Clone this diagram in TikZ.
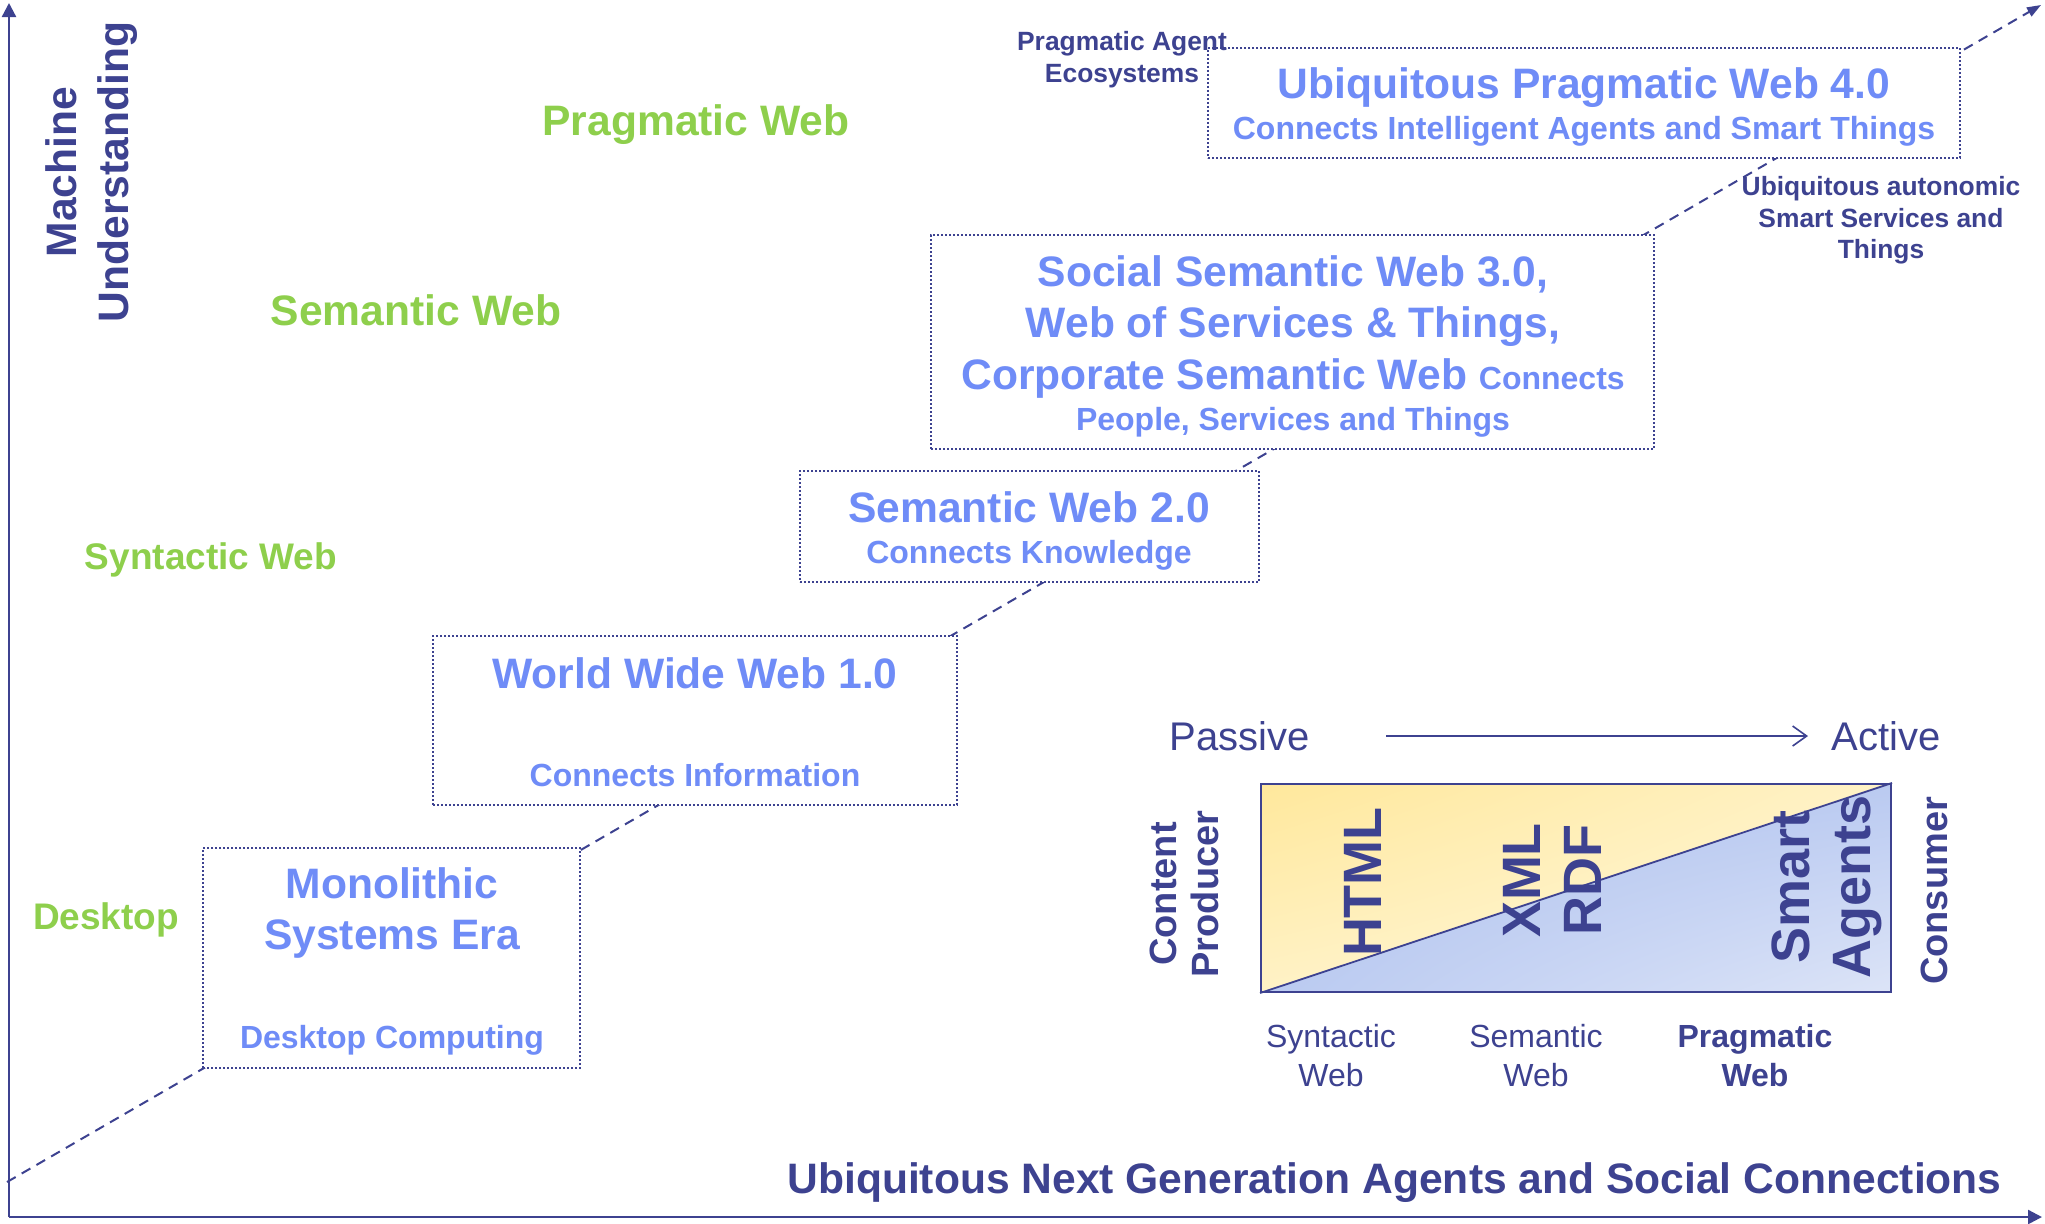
\documentclass[tikz,border=0pt]{standalone}
\usepackage{fontspec}
\setmainfont{Liberation Sans}
\usetikzlibrary{arrows.meta,shadings}
\definecolor{navy}{RGB}{61,66,144}
\definecolor{ltblue}{RGB}{111,140,247}
\definecolor{lgreen}{RGB}{142,207,76}
\definecolor{yelA}{RGB}{255,232,156}
\definecolor{yelB}{RGB}{255,242,198}
\definecolor{yelC}{RGB}{255,248,222}
\definecolor{bluA}{RGB}{176,194,238}
\definecolor{bluB}{RGB}{186,202,241}
\definecolor{bluC}{RGB}{220,228,247}
\newcommand\FBig{\bfseries\fontsize{21.3}{25.5}\selectfont}
\newcommand\FMed{\bfseries\fontsize{16}{19}\selectfont}
\newcommand\FSml{\bfseries\fontsize{13.2}{16}\selectfont}
\newcommand\FGrn{\bfseries\fontsize{18.5}{22}\selectfont}
\newcommand\FHuge{\bfseries\fontsize{27}{30.5}\selectfont}
\newcommand\FCon{\bfseries\fontsize{19}{21}\selectfont}
\newcommand\FLab{\fontsize{16}{19}\selectfont}
\begin{document}
\begin{tikzpicture}[x=0.5pt,y=-0.5pt,
  axisline/.style={draw=navy, line width=1.2pt, -{Triangle[length=7pt,width=7pt]}},
  trendline/.style={draw=navy, line width=1pt, dash pattern=on 5pt off 3.5pt, -{Triangle[length=7pt,width=5pt]}},
  era/.style={draw=navy, line width=0.9pt, dash pattern=on 0.9pt off 1.1pt, fill=white, inner sep=0pt},
  bigt/.style={text=ltblue, font=\FBig, anchor=base, inner sep=0pt},
  medt/.style={text=ltblue, font=\FMed, anchor=base, inner sep=0pt},
  sidet/.style={text=navy, font=\FSml, anchor=base, inner sep=0pt},
  grnbig/.style={text=lgreen, font=\FBig, anchor=base, inner sep=0pt},
  grnsm/.style={text=lgreen, font=\FGrn, anchor=base, inner sep=0pt},
  rot/.style={rotate=90, text=navy, align=center, inner sep=0pt},
  labt/.style={text=navy, font=\FLab, anchor=base, inner sep=0pt},
]
\useasboundingbox (0,0) rectangle (2045,1223);

% axes
\coordinate (origin) at (9,1217);
\coordinate (ytop) at (9,3);
\coordinate (xend) at (2042,1217);
\draw[axisline] (origin) -- (ytop);
\draw[axisline] (origin) -- (xend);

% dashed trend line
\coordinate (trendA) at (7,1182);
\coordinate (trendB) at (2041,5);
\draw[trendline] (trendA) -- (trendB);

% era boxes
\node[era, minimum width=376pt, minimum height=55pt] (b4) at (1584,103) {};
\node[era, minimum width=361.5pt, minimum height=107pt] (b3) at (1292.5,342) {};
\node[era, minimum width=229.5pt, minimum height=55.5pt] (b2) at (1029.5,526.5) {};
\node[era, minimum width=262pt, minimum height=84.5pt] (b1) at (695,720.5) {};
\node[era, minimum width=188.5pt, minimum height=110pt] (b0) at (391.5,958) {};

% box texts
\node[bigt] (t4a) at (1584,98) {Ubiquitous Pragmatic Web 4.0};
\node[medt] (t4b) at (1584,139) {Connects Intelligent Agents and Smart Things};
\node[bigt] (t3a) at (1293,286) {Social Semantic Web 3.0,};
\node[bigt] (t3b) at (1293,337) {Web of Services \& Things,};
\node[bigt] (t3c) at (1293,389) {Corporate Semantic Web {\FMed Connects}};
\node[medt] (t3d) at (1293,430) {People, Services and Things};
\node[bigt] (t2a) at (1029,522) {Semantic Web 2.0};
\node[medt] (t2b) at (1029,563) {Connects Knowledge};
\node[bigt] (t1a) at (695,688) {World Wide Web 1.0};
\node[medt] (t1b) at (695,786) {Connects Information};
\node[bigt] (t0a) at (392,898) {Monolithic};
\node[bigt] (t0b) at (392,949) {Systems Era};
\node[medt] (t0c) at (392,1048) {Desktop Computing};

% side labels
\node[sidet] (pa1) at (1122,50) {Pragmatic Agent};
\node[sidet] (pa2) at (1122,82) {Ecosystems};
\node[sidet] (ua1) at (1881,195) {Ubiquitous autonomic};
\node[sidet] (ua2) at (1881,227) {Smart Services and};
\node[sidet] (ua3) at (1881,258) {Things};

% level labels
\node[grnbig] (gp) at (696,135) {Pragmatic Web};
\node[grnbig] (gs) at (416,325) {Semantic Web};
\node[grnsm] (gy) at (211,569) {Syntactic Web};
\node[grnsm] (gd) at (106,929) {Desktop};

% axis titles
\node[rot, font=\bfseries\fontsize{21.3}{26}\selectfont] (mu) at (92,172) {Machine\\Understanding};
\node[anchor=base east, text=navy, font=\FBig, inner sep=0pt] (xt) at (2002,1193) {Ubiquitous Next Generation Agents and Social Connections};

% inset
\node[labt, font=\fontsize{20}{24}\selectfont] (passive) at (1240,750) {Passive};
\node[labt, font=\fontsize{20}{24}\selectfont] (active) at (1886,750) {Active};
\coordinate (arrS) at (1386,736);
\coordinate (arrE) at (1808,736);
\draw[navy, line width=0.8pt, -{Straight Barb[length=7pt,width=10pt]}] (arrS) -- (arrE);

\begin{scope}
\clip (1261,784) -- (1891,784) -- (1261,992) -- cycle;
\shade[upper left=yelA, upper right=yelB, lower left=yelB, lower right=yelC] (1261,784) rectangle (1891,992);
\end{scope}
\begin{scope}
\clip (1891,784) -- (1891,992) -- (1261,992) -- cycle;
\shade[upper left=bluA, upper right=bluB, lower left=bluB, lower right=bluC] (1261,784) rectangle (1891,992);
\end{scope}
\node[draw=navy, line width=1pt, minimum width=315pt, minimum height=104pt, inner sep=0pt] (panel) at (1576,888) {};
\draw[navy, line width=0.9pt] (panel.south west) -- (panel.north east);

\node[rot, font=\FHuge] (html) at (1363,882) {HTML};
\node[rot, font=\FHuge] (xml) at (1552,880) {XML\\RDF};
\node[rot, font=\FHuge] (agents) at (1827,887) {Smart\\Agents};
\node[rot, font=\FCon] (cp) at (1184,894) {Content\\Producer};
\node[rot, font=\FCon] (cons) at (1934,891) {Consumer};

\node[labt] (sy1) at (1331,1047) {Syntactic};
\node[labt] (sy2) at (1331,1086) {Web};
\node[labt] (se1) at (1536,1047) {Semantic};
\node[labt] (se2) at (1536,1086) {Web};
\node[labt, font=\bfseries\fontsize{16}{19}\selectfont] (pr1) at (1755,1047) {Pragmatic};
\node[labt, font=\bfseries\fontsize{16}{19}\selectfont] (pr2) at (1755,1086) {Web};
\end{tikzpicture}
\end{document}
